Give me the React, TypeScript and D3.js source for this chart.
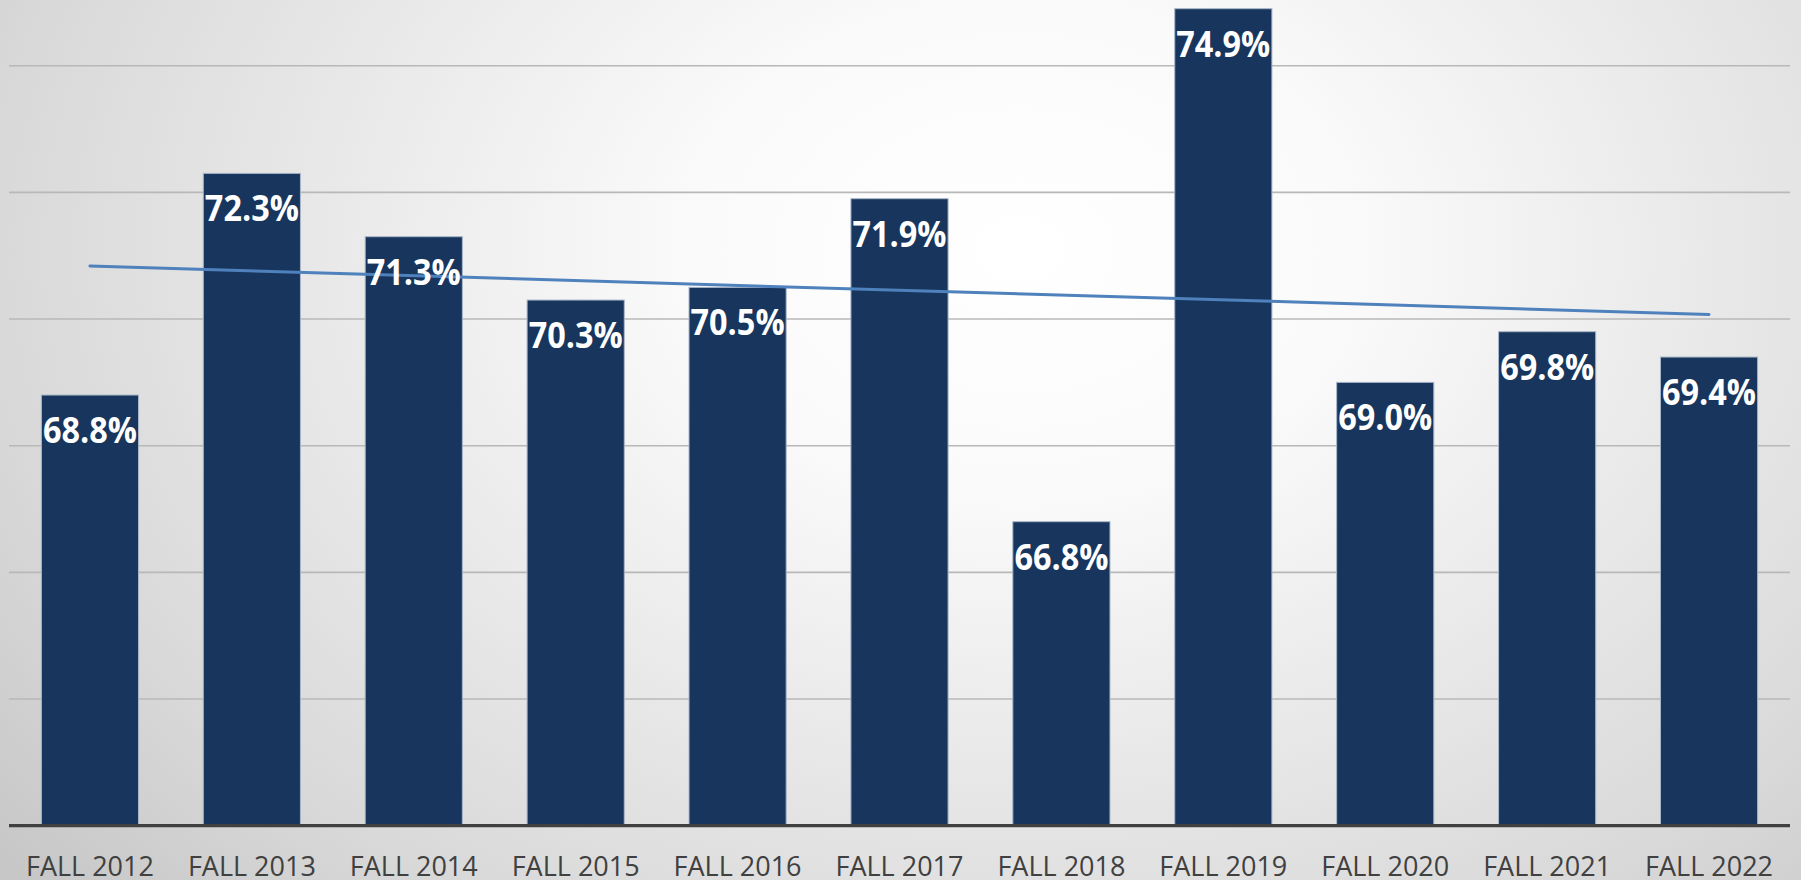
import React from "react";
import * as d3 from "d3";

const categories = [
  "FALL 2012", "FALL 2013", "FALL 2014", "FALL 2015", "FALL 2016", "FALL 2017",
  "FALL 2018", "FALL 2019", "FALL 2020", "FALL 2021", "FALL 2022",
];
const values = [68.8, 72.3, 71.3, 70.3, 70.5, 71.9, 66.8, 74.9, 69.0, 69.8, 69.4];
const gridTicks = [64, 66, 68, 70, 72, 74];

const W = 1801;
const H = 880;
const AXIS_Y = 825.7;

export default function App() {
  const x = d3.scaleBand<string>().domain(categories).range([9, 1790]).paddingInner(0.4).paddingOuter(0.2);
  const y = d3.scaleLinear().domain([62, 74]).range([AXIS_Y, 65.7]);

  // linear trend (least squares)
  const n = values.length;
  const xs = d3.range(n);
  const mx = d3.mean(xs) as number;
  const my = d3.mean(values) as number;
  const sxy = d3.sum(xs, (i) => (i - mx) * (values[i] - my));
  const sxx = d3.sum(xs, (i) => (i - mx) * (i - mx));
  const slope = sxy / sxx;
  const intercept = my - slope * mx;
  const trendPts: [number, number][] = [0, n - 1].map((i) => [
    (x(categories[i]) as number) + x.bandwidth() / 2,
    y(intercept + slope * i),
  ]);
  const line = d3.line();

  const bw = x.bandwidth();

  return (
    <svg width={W} height={H} style={{ position: "absolute", left: 0, top: 0, display: "block" }}>
      <defs>
        <radialGradient
          id="bg"
          gradientUnits="userSpaceOnUse"
          cx={0}
          cy={0}
          r={1.3}
          gradientTransform="translate(1020,250) scale(1020,750)"
        >
          <stop offset="0" stopColor="#ffffff" />
          <stop offset="0.25" stopColor="#fafafa" />
          <stop offset="0.77" stopColor="#d9d9d9" />
          <stop offset="1" stopColor="#c6c6c6" />
        </radialGradient>
      </defs>
      <rect x={0} y={0} width={W} height={H} fill="url(#bg)" />
      <g>
        {gridTicks.map((t) => (
          <line key={t} x1={9} x2={1790} y1={y(t)} y2={y(t)} stroke="#b8b8b8" strokeWidth={1.6} />
        ))}
      </g>
      <g>
        {categories.map((c, i) => (
          <rect
            key={c}
            x={x(c)}
            y={y(values[i])}
            width={bw}
            height={AXIS_Y - y(values[i])}
            fill="#18365d"
            stroke="#a9b6c8"
            strokeWidth={1}
          />
        ))}
      </g>
      <line x1={9} x2={1790} y1={AXIS_Y} y2={AXIS_Y} stroke="#404040" strokeWidth={3.3} />
      <path d={line(trendPts) || ""} stroke="#4f81bd" strokeWidth={3} fill="none" strokeLinecap="round" />
      <g>
        {categories.map((c, i) => (
          <text
            key={c}
            x={(x(c) as number) + bw / 2}
            y={y(values[i]) + 48}
            textAnchor="middle"
            fill="#ffffff"
            fontFamily="'Open Sans', sans-serif"
            fontWeight={700}
            fontSize={35}
            textLength={94}
            lengthAdjust="spacingAndGlyphs"
          >
            {values[i].toFixed(1) + "%"}
          </text>
        ))}
      </g>
      <g>
        {categories.map((c) => (
          <text
            key={c}
            x={(x(c) as number) + bw / 2}
            y={876}
            textAnchor="middle"
            fill="#404040"
            fontFamily="'Open Sans', sans-serif"
            fontSize={27}
          >
            {c}
          </text>
        ))}
      </g>
    </svg>
  );
}
